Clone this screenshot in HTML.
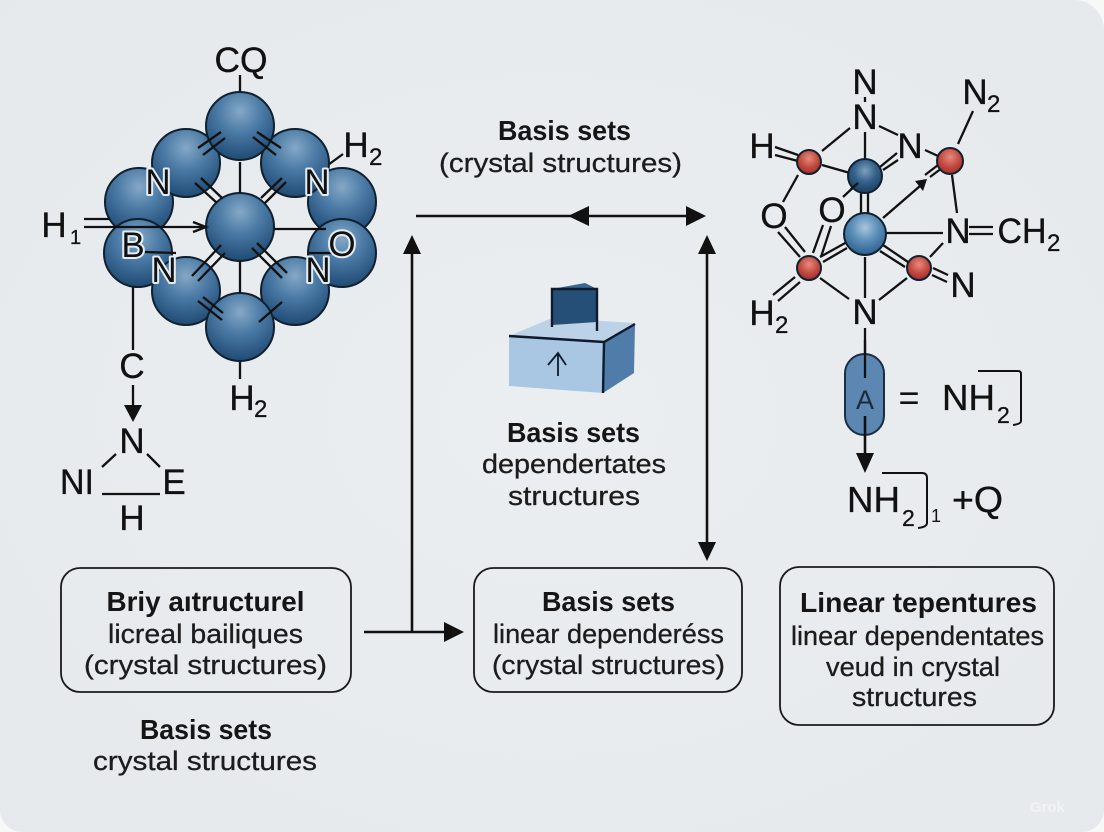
<!DOCTYPE html>
<html>
<head>
<meta charset="utf-8">
<style>
html,body{margin:0;padding:0;background:#f7f8f8;width:1104px;height:832px;overflow:hidden}
svg{display:block}
text{font-family:"Liberation Sans",sans-serif;fill:#111}
.l{font-size:35px;text-anchor:middle;stroke:#111;stroke-width:.35px}
.h{font-size:35px;text-anchor:middle;paint-order:stroke;stroke:#e4ecf2;stroke-width:4px;stroke-linejoin:round}
.s{font-size:24px;stroke:#111;stroke-width:.3px}
.b{font-size:28px;font-weight:bold;text-anchor:middle;fill:#151515}
.t{font-size:27px;text-anchor:middle;fill:#1c1c1c;stroke:#1c1c1c;stroke-width:.3px}
.k line,.k path{stroke:#111;stroke-width:2.3;fill:none}
.a line{stroke:#111;stroke-width:2.6}
.a polygon{fill:#111}
.sph circle{stroke:#10202f;stroke-width:2}
</style>
</head>
<body>
<svg width="1104" height="832" viewBox="0 0 1104 832" xmlns="http://www.w3.org/2000/svg">
<defs>
<radialGradient id="bg" cx="50%" cy="50%" r="75%">
<stop offset="0" stop-color="#ebeef0"/><stop offset="1" stop-color="#e5e9eb"/>
</radialGradient>
<radialGradient id="g" cx="50%" cy="28%" r="72%">
<stop offset="0" stop-color="#86a8c6"/><stop offset=".45" stop-color="#4a7aa5"/><stop offset="1" stop-color="#1f4a74"/>
</radialGradient>
<radialGradient id="g2" cx="50%" cy="35%" r="65%">
<stop offset="0" stop-color="#a9c6dc"/><stop offset=".5" stop-color="#5a8db7"/><stop offset="1" stop-color="#2c5f8c"/>
</radialGradient>
<radialGradient id="g3" cx="50%" cy="35%" r="65%">
<stop offset="0" stop-color="#7f9fbb"/><stop offset=".5" stop-color="#33628c"/><stop offset="1" stop-color="#1c3f63"/>
</radialGradient>
<radialGradient id="r" cx="50%" cy="35%" r="65%">
<stop offset="0" stop-color="#e68a7d"/><stop offset=".6" stop-color="#c2483e"/><stop offset="1" stop-color="#9c2f2a"/>
</radialGradient>
</defs>

<path d="M0 0H1074A30 30 0 0 1 1104 30V810A22 22 0 0 1 1082 832H22A22 22 0 0 1 0 810Z" fill="url(#bg)"/>

<!-- LEFT MOLECULE -->
<g class="k"><line x1="240" y1="75" x2="240" y2="94"/><line x1="133" y1="285" x2="133" y2="350"/>
<line x1="328" y1="165" x2="343" y2="154"/><line x1="240" y1="361" x2="240" y2="379"/></g>
<g class="sph" fill="url(#g)">
<circle cx="139" cy="202" r="34"/><circle cx="342" cy="202" r="34"/>
<circle cx="186" cy="163" r="34"/><circle cx="295" cy="163" r="34"/>
<circle cx="240" cy="126" r="34"/>
<circle cx="138" cy="253" r="34"/><circle cx="342" cy="253" r="34"/>
<circle cx="186" cy="291" r="34"/><circle cx="295" cy="291" r="34"/>
<circle cx="240" cy="327" r="34"/>
<circle cx="240" cy="227" r="34"/>
</g>
<g class="k">
<line x1="198" y1="148" x2="221" y2="132"/><line x1="203" y1="155" x2="225" y2="138"/>
<line x1="257" y1="132" x2="281" y2="148"/><line x1="253" y1="137" x2="276" y2="155"/>
<line x1="240" y1="162" x2="240" y2="193"/>
<line x1="195" y1="183" x2="217" y2="203"/><line x1="201" y1="178" x2="222" y2="198"/>
<line x1="261" y1="198" x2="282" y2="178"/><line x1="265" y1="203" x2="286" y2="182"/>
<line x1="84" y1="219" x2="110" y2="219"/><line x1="84" y1="227" x2="206" y2="227"/>
<path d="M193 222L206 227L193 232"/>
<line x1="274" y1="229" x2="326" y2="229"/>
<line x1="192" y1="276" x2="221" y2="245"/><line x1="198" y1="281" x2="225" y2="253"/>
<line x1="252" y1="248" x2="282" y2="278"/><line x1="257" y1="243" x2="287" y2="273"/>
<line x1="240" y1="261" x2="240" y2="293"/>
<line x1="198" y1="301" x2="222" y2="320"/><line x1="203" y1="297" x2="223" y2="313"/>
<line x1="259" y1="322" x2="282" y2="302"/>
<line x1="145" y1="252" x2="176" y2="253"/><line x1="309" y1="253" x2="332" y2="253"/>
</g>
<text class="l" x="241" y="72" textLength="53" lengthAdjust="spacingAndGlyphs">CQ</text>
<text class="l" x="356" y="157">H</text><text class="s" x="369" y="165">2</text>
<text class="l" x="54" y="237">H</text><text class="s" x="70" y="244" style="font-size:20px">1</text>
<text class="h" x="158" y="194">N</text>
<text class="h" x="317" y="194">N</text>
<text class="h" x="133" y="257">B</text>
<text class="h" x="164" y="282">N</text>
<text class="h" x="318" y="282">N</text>
<text class="h" x="342" y="256">O</text>
<text class="l" x="242" y="410">H</text><text class="s" x="254" y="417">2</text>

<!-- LOWER-LEFT FRAGMENT -->
<text class="l" x="132" y="378">C</text>
<line x1="133" y1="385" x2="133" y2="408" stroke="#111" stroke-width="2.3"/>
<polygon points="124,405 142,405 133,422" fill="#111"/>
<text class="l" x="132" y="453">N</text>
<text class="l" x="77" y="494" textLength="34" lengthAdjust="spacingAndGlyphs">NI</text>
<text class="l" x="174" y="494">E</text>
<text class="l" x="132" y="530">H</text>
<g class="k"><line x1="116" y1="454" x2="102" y2="467"/><line x1="147" y1="454" x2="160" y2="467"/><line x1="102" y1="494" x2="160" y2="494"/></g>

<!-- CENTER TOP TEXT AND ARROWS -->
<text class="b" x="564.5" y="140" textLength="133" lengthAdjust="spacingAndGlyphs">Basis sets</text>
<text class="t" x="560.5" y="172" textLength="243" lengthAdjust="spacingAndGlyphs">(crystal structures)</text>
<g class="a">
<line x1="416" y1="216" x2="690" y2="216"/>
<polygon points="568,216 589,206 589,226"/><polygon points="706,216 686,206 686,226"/>
<line x1="412" y1="250" x2="412" y2="633"/><polygon points="412,235 403,254 421,254"/>
<line x1="364" y1="632" x2="448" y2="632"/><polygon points="464,632 444,622 444,642"/>
<line x1="707" y1="250" x2="707" y2="546"/>
<polygon points="707,235 698,254 716,254"/><polygon points="707,561 698,542 716,542"/>
</g>

<!-- BOX ICON -->
<polygon points="509,336 552,318 635,323 604,342" fill="#bcd2e6"/>
<polygon points="509,336 604,342 603,393 509,386" fill="#a9c7e2"/>
<polygon points="604,342 635,324 634,373 603,393" fill="#4f7ca8"/>
<polygon points="552,289 585,283 597,289" fill="#3a6791"/>
<polygon points="552,289 597,289 597,322 552,325" fill="#264f78"/>
<g fill="none" stroke="#0f1a2b" stroke-width="2.4">
<path d="M552 327V289H597V331" />
<path d="M509 336L604 342L635 324M604 342L603 393"/>
<path d="M558 376V354M548 365L558 353L566 365" stroke-width="1.8"/>
</g>

<text class="b" x="573.5" y="442" textLength="133" lengthAdjust="spacingAndGlyphs">Basis sets</text>
<text class="t" x="574" y="473" textLength="184" lengthAdjust="spacingAndGlyphs">dependertates</text>
<text class="t" x="574" y="505" textLength="132" lengthAdjust="spacingAndGlyphs">structures</text>

<!-- BOXES -->
<g fill="none" stroke="#1a1a1a" stroke-width="1.8">
<rect x="61" y="568" width="290" height="124" rx="19"/>
<rect x="474" y="568" width="268" height="124" rx="19"/>
<rect x="780" y="567" width="274" height="158" rx="19"/>
</g>
<text class="b" x="205.5" y="611" textLength="198" lengthAdjust="spacingAndGlyphs">Briy aıtructurel</text>
<text class="t" x="205.5" y="643" textLength="195" lengthAdjust="spacingAndGlyphs">licreal bailiques</text>
<text class="t" x="205.5" y="674" textLength="243" lengthAdjust="spacingAndGlyphs">(crystal structures)</text>
<text class="b" x="206" y="739" textLength="132" lengthAdjust="spacingAndGlyphs">Basis sets</text>
<text class="t" x="205" y="770" textLength="224" lengthAdjust="spacingAndGlyphs">crystal structures</text>

<text class="b" x="608.5" y="611" textLength="133" lengthAdjust="spacingAndGlyphs">Basis sets</text>
<text class="t" x="608.5" y="643" textLength="231" lengthAdjust="spacingAndGlyphs">linear dependeréss</text>
<text class="t" x="608.5" y="674" textLength="233" lengthAdjust="spacingAndGlyphs">(crystal structures)</text>

<text class="b" x="918.5" y="612" textLength="237" lengthAdjust="spacingAndGlyphs">Linear tepentures</text>
<text class="t" x="917.5" y="645" textLength="253" lengthAdjust="spacingAndGlyphs">linear dependentates</text>
<text class="t" x="913" y="676" textLength="174" lengthAdjust="spacingAndGlyphs">veud in crystal</text>
<text class="t" x="914.5" y="706" textLength="125" lengthAdjust="spacingAndGlyphs">structures</text>

<!-- RIGHT MOLECULE -->
<g class="k">
<line x1="865" y1="97" x2="865" y2="102"/>
<line x1="850" y1="128" x2="822" y2="151"/>
<line x1="865" y1="132" x2="865" y2="160"/>
<line x1="879" y1="126" x2="898" y2="135"/>
<line x1="925" y1="150" x2="938" y2="156"/>
<line x1="958" y1="144" x2="973" y2="111"/>
<line x1="775" y1="147" x2="798" y2="155"/><line x1="775" y1="155" x2="798" y2="161"/>
<line x1="822" y1="165" x2="850" y2="173"/>
<line x1="880" y1="167" x2="897" y2="153"/><line x1="883" y1="170" x2="898" y2="160"/>
<line x1="798" y1="175" x2="783" y2="202"/>
<line x1="858" y1="183" x2="843" y2="197"/>
<line x1="861" y1="193" x2="861" y2="214"/><line x1="868" y1="193" x2="868" y2="214"/>
<line x1="883" y1="218" x2="920" y2="186"/>
<line x1="925" y1="175" x2="938" y2="165"/><line x1="930" y1="177" x2="942" y2="168"/>
<line x1="952" y1="175" x2="957" y2="213"/>
<line x1="886" y1="233" x2="943" y2="233"/>
<line x1="969" y1="227" x2="993" y2="227"/><line x1="969" y1="234" x2="993" y2="234"/>
<line x1="865" y1="257" x2="865" y2="298"/>
<line x1="847" y1="242" x2="820" y2="257"/><line x1="847" y1="248" x2="823" y2="262"/>
<line x1="778" y1="232" x2="800" y2="257"/><line x1="785" y1="227" x2="805" y2="252"/>
<line x1="813" y1="253" x2="823" y2="225"/><line x1="821" y1="257" x2="831" y2="226"/>
<line x1="773" y1="295" x2="795" y2="277"/><line x1="778" y1="301" x2="800" y2="282"/>
<line x1="820" y1="278" x2="849" y2="299"/>
<line x1="907" y1="278" x2="879" y2="300"/>
<line x1="883" y1="245" x2="908" y2="262"/><line x1="880" y1="251" x2="905" y2="267"/>
<line x1="933" y1="268" x2="948" y2="275"/><line x1="932" y1="275" x2="947" y2="282"/>
<line x1="943" y1="243" x2="930" y2="257"/>
<line x1="865" y1="328" x2="865" y2="354"/>
</g>
<polygon points="927,179 915,181 923,191" fill="#111"/>
<g class="sph">
<circle cx="865" cy="176" r="17" fill="url(#g3)"/>
<circle cx="865" cy="234" r="21" fill="url(#g2)"/>
<circle cx="809" cy="162" r="12" fill="url(#r)"/>
<circle cx="950" cy="161" r="13" fill="url(#r)"/>
<circle cx="809" cy="268" r="12" fill="url(#r)"/>
<circle cx="919" cy="268" r="12" fill="url(#r)"/>
</g>
<g stroke="#111" stroke-width="2.3" fill="none">
<line x1="858" y1="183" x2="851" y2="189"/>
</g>
<text class="l" x="865" y="94">N</text>
<text class="l" x="865" y="129">N</text>
<text class="l" x="910" y="158">N</text>
<text class="l" x="975" y="104">N</text><text class="s" x="987" y="112">2</text>
<text class="l" x="762" y="158">H</text>
<text class="l" x="774" y="228">O</text>
<text class="l" x="832" y="222">O</text>
<text class="l" x="958" y="243">N</text>
<text class="l" x="1022" y="243" textLength="49" lengthAdjust="spacingAndGlyphs">CH</text><text class="s" x="1047" y="251">2</text>
<text class="l" x="963" y="297">N</text>
<text class="l" x="762" y="325">H</text><text class="s" x="775" y="333">2</text>
<text class="l" x="865" y="324">N</text>

<!-- CAPSULE -->
<rect x="845" y="354" width="39" height="81" rx="19.5" fill="#5b87b2" stroke="#1a2d42" stroke-width="2"/>
<line x1="865" y1="340" x2="865" y2="378" stroke="#111" stroke-width="2.3"/>
<text x="865" y="409" text-anchor="middle" style="font-size:27px;fill:#1c2b3a">A</text>
<line x1="865" y1="416" x2="865" y2="456" stroke="#111" stroke-width="2.6"/>
<polygon points="856,453 874,453 865,473" fill="#111"/>
<text x="909" y="410" text-anchor="middle" style="font-size:36px">=</text>
<text x="968.5" y="410" text-anchor="middle" style="font-size:36px;stroke:#111;stroke-width:.35px" textLength="53" lengthAdjust="spacingAndGlyphs">NH</text>
<text x="997" y="423" style="font-size:23px;stroke:#111;stroke-width:.3px">2</text>
<path d="M978 371H1018Q1021 371 1021 374V421Q1021 424 1013 425" fill="none" stroke="#111" stroke-width="2"/>
<text x="873.5" y="512" text-anchor="middle" style="font-size:36px;stroke:#111;stroke-width:.35px" textLength="53" lengthAdjust="spacingAndGlyphs">NH</text>
<text x="902" y="526" style="font-size:23px;stroke:#111;stroke-width:.3px">2</text>
<path d="M882 473H922Q927 473 927 478V523Q927 527 918 528" fill="none" stroke="#111" stroke-width="2"/>
<text x="931" y="522" style="font-size:18px">1</text>
<text x="977.5" y="512" text-anchor="middle" style="font-size:36px;stroke:#111;stroke-width:.35px" textLength="51" lengthAdjust="spacingAndGlyphs">+Q</text>

<!-- WATERMARK -->
<text x="1030" y="812" style="font-size:15px;fill:#f1f3f4;font-weight:bold">Grok</text>
</svg>
</body>
</html>
